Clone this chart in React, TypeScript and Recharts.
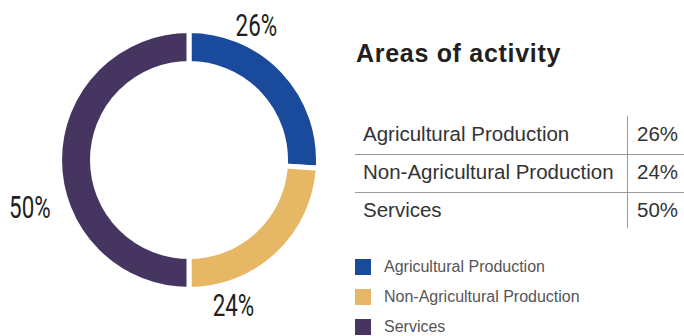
import React from "react";
import { PieChart, Pie, Cell } from "recharts";

const categories = ["Agricultural Production", "Non-Agricultural Production", "Services"];
const shares = [26, 24, 50];
const colors = ["#1a4a9c", "#e6b865", "#463461"];

// where each outside percentage label sits, degrees clockwise from 12 o'clock, and its distance from the centre
const labelAngles = [26.5, 163, 253.5];
const labelRadii = [151, 152, 166];

const data = categories.map((name, i) => ({ name, value: shares[i] }));

const renderLabel = (props: any) => {
  const { cx, cy, index, value } = props;
  const a = (labelAngles[index] * Math.PI) / 180;
  const r = labelRadii[index];
  const x = cx + r * Math.sin(a);
  const y = cy - r * Math.cos(a);
  return (
    <text
      transform={`translate(${x},${y}) scale(0.7,1)`}
      x={0}
      y={0}
      textAnchor="middle"
      dominantBaseline="central"
      fontFamily="Roboto"
      fontWeight={400}
      fontSize={32}
      fill="#231f20"
    >
      {value}%
    </text>
  );
};

const sans = "Liberation Sans, Arial, sans-serif";
const rowText = { fontSize: 20.5, color: "#333", fontFamily: sans };

export default function App() {
  return (
    <div style={{ position: "fixed", left: 0, top: 0, width: 684, height: 336, background: "#fff", overflow: "hidden" }}>
      <PieChart width={684} height={336} margin={{ top: 0, right: 0, bottom: 0, left: 0 }}>
        <Pie
          data={data}
          dataKey="value"
          cx={189}
          cy={160}
          innerRadius={96.5}
          outerRadius={129.5}
          startAngle={90}
          endAngle={-270}
          stroke="#fff"
          strokeWidth={5}
          label={renderLabel}
          labelLine={false}
          isAnimationActive={false}
        >
          {data.map((d, i) => (
            <Cell key={d.name} fill={colors[i]} />
          ))}
        </Pie>
      </PieChart>

      <div
        style={{
          position: "absolute",
          left: 356,
          top: 39,
          fontFamily: sans,
          fontWeight: 700,
          fontSize: 25,
          letterSpacing: 0.7,
          color: "#231f20",
        }}
      >
        Areas of activity
      </div>

      {/* summary table */}
      <div style={{ position: "absolute", left: 627, top: 116, width: 1, height: 112, background: "#9a9a9a" }} />
      {[154, 192].map((y) => (
        <div key={y} style={{ position: "absolute", left: 355, top: y, width: 329, height: 1, background: "#9a9a9a" }} />
      ))}
      {categories.map((c, i) => (
        <React.Fragment key={c}>
          <div style={{ ...rowText, position: "absolute", left: 363, top: 122 + i * 38, lineHeight: "24px" }}>{c}</div>
          <div style={{ ...rowText, position: "absolute", left: 637, top: 122 + i * 38, lineHeight: "24px" }}>
            {shares[i]}%
          </div>
        </React.Fragment>
      ))}

      {/* legend */}
      <div style={{ position: "absolute", left: 355, top: 252, fontFamily: sans }}>
        {categories.map((c, i) => (
          <div key={c} style={{ display: "flex", alignItems: "center", height: 30 }}>
            <span style={{ width: 16, height: 16, background: colors[i], display: "inline-block", marginRight: 13 }} />
            <span style={{ fontSize: 16, color: "#555" }}>{c}</span>
          </div>
        ))}
      </div>
    </div>
  );
}
